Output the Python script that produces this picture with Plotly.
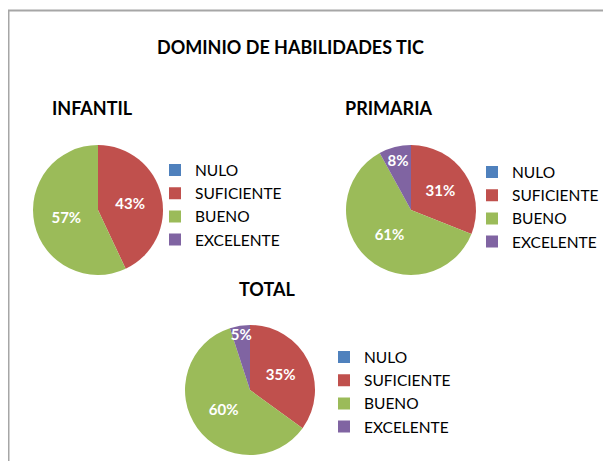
import plotly.graph_objects as go

FONT = "Lato"

categorias = ["NULO", "SUFICIENTE", "BUENO", "EXCELENTE"]
colores = ["#4F81BD", "#C0504D", "#9BBB59", "#8064A2"]

infantil = [0, 43, 57, 0]
primaria = [0, 31, 61, 8]
total = [0, 35, 60, 5]

# the page puts the figure 8px in from the window corner
OFF = 8
W, H = 611 - OFF, 461 - OFF


def px_x(v):
    return (v - OFF) / W


def px_y(v):
    # v measured from the top of the window
    return 1 - (v - OFF) / H


def pie(valores, cx, cy, r, legend, sufijo):
    # sufijo invisible: cada gráfico necesita su propia leyenda
    return go.Pie(
        labels=[c + sufijo for c in categorias],
        values=valores,
        sort=False,
        direction="clockwise",
        rotation=0,
        marker=dict(colors=colores, line=dict(width=0)),
        texttemplate=["" if v == 0 else "%{percent:.0%}" for v in valores],
        textposition="inside",
        insidetextorientation="horizontal",
        textfont=dict(family=FONT, size=15, color="white", weight="bold"),
        hoverinfo="label+percent",
        domain=dict(x=[px_x(cx - r), px_x(cx + r)], y=[px_y(cy + r), px_y(cy - r)]),
        legend=legend,
    )


fig = go.Figure()
fig.add_trace(pie(infantil, 98, 210, 65, "legend", ""))
fig.add_trace(pie(primaria, 411, 210, 65, "legend2", "\u200b"))
fig.add_trace(pie(total, 250, 390, 65, "legend3", "\u200b\u200b"))

leg_style = dict(
    font=dict(family=FONT, size=15.5, color="#000000"),
    bgcolor="rgba(0,0,0,0)",
    xanchor="left",
    yanchor="middle",
    itemclick=False,
    itemdoubleclick=False,
)

fig.update_layout(
    width=W,
    height=H,
    margin=dict(l=0, r=0, t=0, b=0),
    paper_bgcolor="white",
    plot_bgcolor="white",
    showlegend=True,
    uniformtext=dict(minsize=15, mode="show"),
    legend=dict(x=px_x(155), y=px_y(205), **leg_style),
    legend2=dict(x=px_x(472), y=px_y(207), **leg_style),
    legend3=dict(x=px_x(324), y=px_y(392), **leg_style),
)

# marco del gráfico
fig.add_shape(
    type="rect", xref="paper", yref="paper",
    x0=px_x(8.5), x1=1.05, y0=-0.05, y1=px_y(10.5),
    line=dict(color="#A6A6A6", width=2),
)

titulos = [
    ("DOMINIO DE HABILIDADES TIC", 290, 47),
    ("INFANTIL", 92, 108),
    ("PRIMARIA", 388, 108),
    ("TOTAL", 267, 289),
]
for texto, x, y in titulos:
    fig.add_annotation(
        text=f"<b>{texto}</b>", x=px_x(x), y=px_y(y), xref="paper", yref="paper",
        showarrow=False, xanchor="center", yanchor="middle",
        font=dict(family=FONT, size=18, color="#000000"),
    )

fig.write_html("out.html")
